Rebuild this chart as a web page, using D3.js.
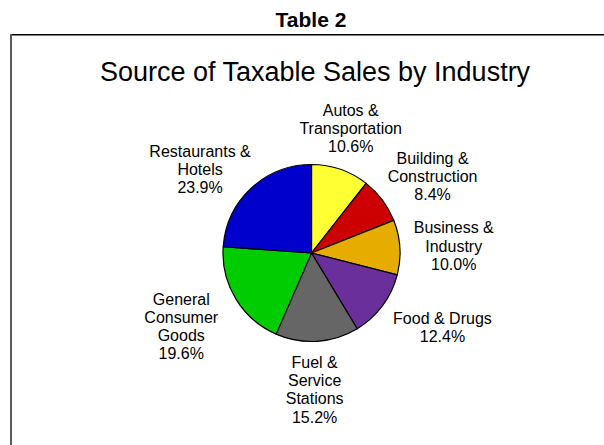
<!DOCTYPE html>
<html>
<head>
<meta charset="utf-8">
<script src="https://cdn.jsdelivr.net/npm/d3@7"></script>
<style>
  html, body { margin: 0; padding: 0; background: #fff; }
  svg { display: block; font-family: "Liberation Sans", Arial, Helvetica, sans-serif; }
</style>
</head>
<body>
<svg id="chart" width="604" height="445"></svg>
<script>
// Share of taxable sales by industry (percent), clockwise from 12 o'clock
const categories = [
  "Autos &\nTransportation",
  "Building &\nConstruction",
  "Business &\nIndustry",
  "Food & Drugs",
  "Fuel &\nService\nStations",
  "General\nConsumer\nGoods",
  "Restaurants &\nHotels"
];
const shares = [10.6, 8.4, 10.0, 12.4, 15.2, 19.6, 23.9];
const sliceColors = ["#FFFF33", "#CC0000", "#E6AC00", "#6B2F9C", "#666666", "#00CC00", "#0000CC"];

// Hand adjustments applied after the automatic outside-end label placement
const labelNudge = [[-11, -5], [3, -1], [0, 1], [9, 4], [-5.5, 1], [-11, 3], [-7, 9]];

const svg = d3.select("#chart");
const W = 604, H = 445;

// Page heading
svg.append("text")
  .attr("x", 311).attr("y", 26.5)
  .attr("text-anchor", "middle")
  .attr("font-size", 21).attr("font-weight", "bold")
  .attr("fill", "#000")
  .text("Table 2");

// Chart area frame (top and left edges fall inside the page)
svg.append("line")
  .attr("x1", 10).attr("x2", W).attr("y1", 34.75).attr("y2", 34.75)
  .attr("stroke", "#000").attr("stroke-width", 1.5);
svg.append("line")
  .attr("x1", 11).attr("x2", 11).attr("y1", 34).attr("y2", H)
  .attr("stroke", "#5a5a5a").attr("stroke-width", 2);

// Chart title
svg.append("text")
  .attr("x", 315).attr("y", 80.7)
  .attr("text-anchor", "middle")
  .attr("font-size", 27)
  .attr("fill", "#000")
  .text("Source of Taxable Sales by Industry");

// Pie
const cx = 311.5, cy = 253, radius = 88.5;
const pie = d3.pie().sort(null).value(d => d).startAngle(0).endAngle(2 * Math.PI);
const arcs = pie(shares);
const arc = d3.arc().innerRadius(0).outerRadius(radius);

const g = svg.append("g").attr("transform", `translate(${cx},${cy})`);
g.selectAll("path.slice")
  .data(arcs)
  .join("path")
  .attr("class", "slice")
  .attr("d", arc)
  .attr("fill", (d, i) => sliceColors[i])
  .attr("stroke", "#000")
  .attr("stroke-width", 1.2)
  .attr("stroke-linejoin", "round");

// Data labels: category lines plus the percentage
const fontSize = 16, lineH = 18.3, capH = 11.5, gap = 14;
const labels = svg.append("g")
  .attr("font-size", fontSize)
  .attr("fill", "#000")
  .attr("text-anchor", "middle");

arcs.forEach((a, i) => {
  const lines = categories[i].split("\n").concat(d3.format(".1f")(shares[i]) + "%");
  const t = labels.append("text");
  lines.forEach(s => t.append("tspan").attr("x", 0).text(s));
  const tsp = t.selectAll("tspan").nodes();
  const w = d3.max(tsp, n => n.getComputedTextLength());
  const h = (lines.length - 1) * lineH + capH;

  const mid = (a.startAngle + a.endAngle) / 2;
  const ux = Math.sin(mid), uy = -Math.cos(mid);
  const bx = cx + ux * (radius + gap) + ux * w / 2 + labelNudge[i][0];
  const by = cy + uy * (radius + gap) + uy * h / 2 + labelNudge[i][1];

  const firstBase = by - h / 2 + capH;
  t.selectAll("tspan")
    .attr("x", bx)
    .attr("y", (d, k) => firstBase + k * lineH);
});
</script>
</body>
</html>
